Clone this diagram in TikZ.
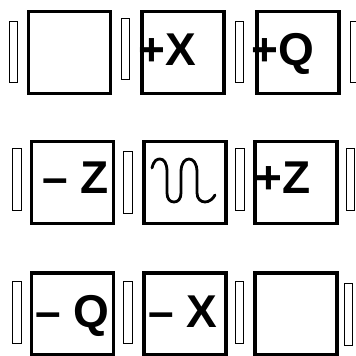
\documentclass[tikz,border=0pt]{standalone}
\usepackage{fontspec}
\setmainfont{Liberation Sans}
\usepackage{tikz}

\begin{document}
\begin{tikzpicture}[
  x=1pt,y=-1pt,
  cell/.style={draw,line width=3.8pt,minimum width=82pt,minimum height=82pt,inner sep=0pt},
  bar/.style={draw,line width=0.9pt,minimum width=8.5pt,minimum height=61.5pt,inner sep=0pt},
  sym/.style={font=\fontsize{46}{46}\selectfont\bfseries,anchor=base west,inner sep=0pt},
  wave/.style={line width=2.8pt,line cap=round,line join=round}
]
\useasboundingbox (0,0) rectangle (356,356);

% top row
\node[bar]  (p11) at (13.5,52) {};
\node[cell] (c11) at (69.5,52.5) {};
\node[bar]  (p12) at (125.5,49) {};
\node[cell] (c12) at (183,52.5) {};
\node[bar]  (p13) at (239.5,52) {};
\node[cell] (c13) at (298,52.5) {};
\node[bar]  (p14) at (354.5,52) {};
\node[sym] (tpx) at (138,65) {+X};
\node[sym] (tpq) at (251,65) {+Q};

% middle row
\node[bar]  (p21) at (17,179.5) {};
\node[cell] (c21) at (72.5,182.5) {};
\node[bar]  (p22) at (128,182.5) {};
\node[cell] (c22) at (185,182.5) {};
\node[bar]  (p23) at (240,179.5) {};
\node[cell] (c23) at (296,182.5) {};
\node[bar]  (p24) at (350.5,179.5) {};
\node[sym] (tmz) at (42,193) {– Z};
\node[sym] (tpz) at (255,193) {+Z};
\draw[wave] (152,168) .. controls (154,160) and (157,159) .. (160,159)
  .. controls (164,159) and (167,163) .. (167,172) -- (167,193)
  .. controls (167,199) and (170,202) .. (174,202)
  .. controls (178,202) and (181,199) .. (181,193) -- (181,172)
  .. controls (181,163) and (185,159) .. (189,159)
  .. controls (193,159) and (197,163) .. (197,172) -- (197,193)
  .. controls (197,199) and (201,202) .. (205,202)
  .. controls (209,202) and (213,199) .. (215,195);

% bottom row
\node[bar]  (p31) at (17,312.5) {};
\node[cell] (c31) at (72.5,314) {};
\node[bar]  (p32) at (128,312.5) {};
\node[cell] (c32) at (185,314) {};
\node[bar]  (p33) at (239.5,312.5) {};
\node[cell] (c33) at (296,314) {};
\node[bar]  (p34) at (348.5,314.5) {};
\node[sym] (tmq) at (35,327) {– Q};
\node[sym] (tmx) at (148,327) {– X};
\end{tikzpicture}
\end{document}
